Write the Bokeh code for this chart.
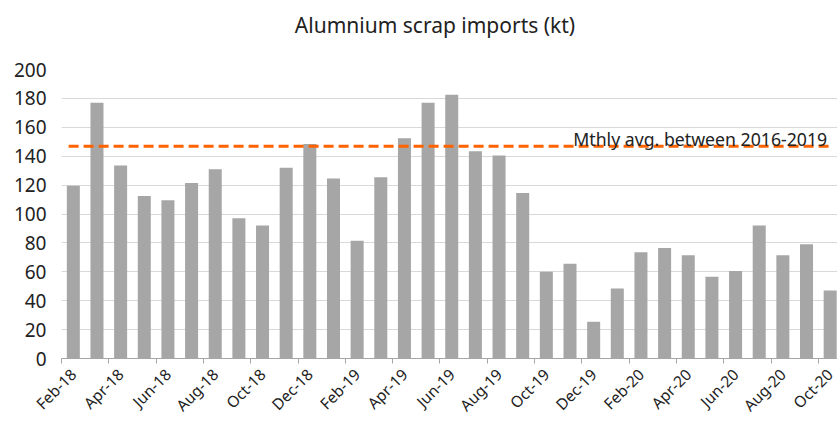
from math import pi
from bokeh.plotting import figure
from bokeh.models import FixedTicker, Range1d, Label, ColumnDataSource, Div
from bokeh.layouts import column
from bokeh.embed import file_html
from bokeh.resources import INLINE

months = ["Feb-18", "Mar-18", "Apr-18", "May-18", "Jun-18", "Jul-18", "Aug-18", "Sep-18",
          "Oct-18", "Nov-18", "Dec-18", "Jan-19", "Feb-19", "Mar-19", "Apr-19", "May-19",
          "Jun-19", "Jul-19", "Aug-19", "Sep-19", "Oct-19", "Nov-19", "Dec-19", "Jan-20",
          "Feb-20", "Mar-20", "Apr-20", "May-20", "Jun-20", "Jul-20", "Aug-20", "Sep-20",
          "Oct-20"]
imports_kt = [119.5, 177, 133.5, 112.5, 109.5, 121.5, 131, 97, 92, 132, 148.5, 124.5,
              81.5, 125.5, 152.5, 177, 182.5, 143.5, 140.5, 114.5, 60, 65.5, 25.5, 48.5,
              73.5, 76.5, 71.5, 56.5, 60.5, 92, 71.5, 79, 47]
avg_2016_2019 = 146.8
avg_label = "Mthly avg. between 2016-2019"
title_text = "Alumnium scrap imports (kt)"
y_ticks = [0, 20, 40, 60, 80, 100, 120, 140, 160, 180, 200]

FONT = "Noto Sans"
n = len(months)
idx = list(range(n))

TITLE_H = 45
title_div = Div(text=title_text, width=837, height=TITLE_H, margin=0,
                styles={"font-family": FONT, "font-size": "21px", "color": "#222222",
                        "text-align": "center", "line-height": "51px",
                        "padding-left": "33px", "box-sizing": "border-box",
                        "width": "837px"})

p = figure(width=837, height=426 - TITLE_H, output_backend="svg", toolbar_location=None,
           x_range=Range1d(-0.5, n - 0.69), y_range=Range1d(0, 200),
           min_border_left=61, min_border_right=0, min_border_top=69 - TITLE_H,
           min_border_bottom=68, margin=0)
p.outline_line_color = None

src = ColumnDataSource(dict(x=idx, top=imports_kt))
p.vbar(x="x", top="top", width=0.55, source=src, color="#a6a6a6", line_color=None)

p.line(x=[-0.2, n - 1], y=[avg_2016_2019, avg_2016_2019], line_color="#ff6200",
       line_width=3, line_dash="10 5")
p.add_layout(Label(x=n - 1, y=avg_2016_2019, x_offset=-3, y_offset=7, text=avg_label,
                   text_align="right", text_baseline="alphabetic", text_font=FONT,
                   text_font_size="17.7px", text_color="#222222"))

# y axis
p.yaxis.ticker = FixedTicker(ticks=y_ticks)
p.yaxis.axis_line_color = None
p.yaxis.major_tick_line_color = None
p.yaxis.minor_tick_line_color = None
p.yaxis.major_tick_out = 0
p.yaxis.major_label_text_font = FONT
p.yaxis.major_label_text_font_size = "19px"
p.yaxis.major_label_text_color = "#222222"
p.yaxis.major_label_standoff = 15
p.ygrid.grid_line_color = "#d9d9d9"
p.ygrid.grid_line_width = 1

# x axis: tick marks between categories (minor), labels every 2nd month
p.xaxis.ticker = FixedTicker(ticks=idx[::2], minor_ticks=[i - 0.5 for i in idx[::2]] + [n - 0.5])
p.xaxis.major_label_overrides = {i: months[i] for i in idx[::2]}
p.xaxis.major_tick_line_color = None
p.xaxis.major_tick_out = 0
p.xaxis.minor_tick_line_color = "#a6a6a6"
p.xaxis.minor_tick_in = 0
p.xaxis.minor_tick_out = 5
p.xaxis.axis_line_color = "#a6a6a6"
p.xaxis.axis_line_width = 1
p.xaxis.major_label_orientation = pi / 4
p.xaxis.major_label_text_font = FONT
p.xaxis.major_label_text_font_size = "15.5px"
p.xaxis.major_label_text_color = "#222222"
p.xaxis.major_label_standoff = 8
p.xgrid.grid_line_color = None

open("out.html", "w").write(file_html(column(title_div, p, spacing=0), INLINE))
